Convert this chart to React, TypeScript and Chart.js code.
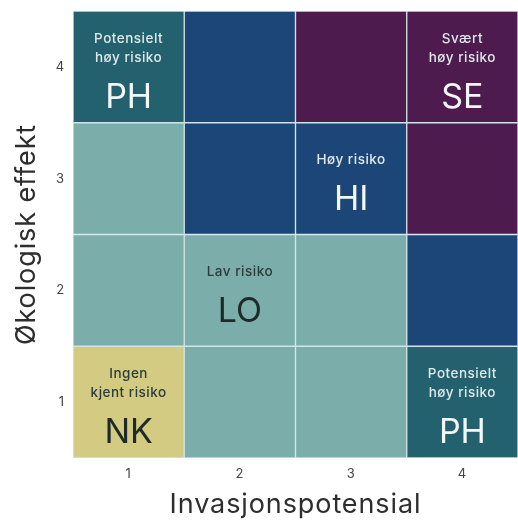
import React, { useEffect, useRef } from "react";
import { Chart, registerables } from "chart.js";

Chart.register(...registerables);

const xCategories = ["1", "2", "3", "4"];
const yCategories = ["1", "2", "3", "4"];
// risk class per cell, one array per row of "Økologisk effekt" (bottom to top), columns = Invasjonspotensial 1..4
const rowEffect1 = ["NK", "LO", "LO", "PH"];
const rowEffect2 = ["LO", "LO", "LO", "HI"];
const rowEffect3 = ["LO", "HI", "HI", "SE"];
const rowEffect4 = ["PH", "HI", "SE", "SE"];
const rows = [rowEffect1, rowEffect2, rowEffect3, rowEffect4];

const classCodes = ["NK", "LO", "PH", "HI", "SE"];
const classColors = ["#d4cb82", "#7badaa", "#24616f", "#1c4677", "#4e1b4f"];
const classNames = [["Ingen", "kjent risiko"], ["Lav risiko"], ["Potensielt", "høy risiko"], ["Høy risiko"], ["Svært", "høy risiko"]];
const classDark = [true, true, false, false, false];

// labelled cells: [invasjon, effekt]
const labelX = [1, 2, 3, 1, 4, 4];
const labelY = [1, 2, 3, 4, 4, 1];

const FONT = "Inter, 'Noto Sans', sans-serif";

const spacing = {
  id: "spacing",
  beforeDraw(chart: any) {
    chart.ctx.letterSpacing = "0.9px";
  },
};

const cellLabels = {
  id: "cellLabels",
  afterDatasetsDraw(chart: any) {
    const { ctx, scales } = chart;
    const xs = scales.x;
    const ys = scales.y;
    ctx.save();
    ctx.textAlign = "center";
    ctx.textBaseline = "middle";
    for (let i = 0; i < labelX.length; i++) {
      const cx = xs.getPixelForValue(labelX[i] - 1);
      const cy = ys.getPixelForValue(labelY[i] - 0.5);
      const code = rows[labelY[i] - 1][labelX[i] - 1];
      const k = classCodes.indexOf(code);
      const lines = classNames[k];
      const n = lines.length;
      const first = -(19 * (n - 1) + 39) / 2 + 1;
      const dark = classDark[k];
      ctx.fillStyle = dark ? "#2b3b3a" : "#dfe9ea";
      ctx.font = `500 13.5px ${FONT}`;
      ctx.letterSpacing = "0.5px";
      lines.forEach((t: string, j: number) => {
        ctx.fillText(t, cx, cy + first + j * 19);
      });
      ctx.fillStyle = dark ? "#1d2a29" : "#f4f7f7";
      ctx.font = `400 34px ${FONT}`;
      ctx.letterSpacing = "0px";
      ctx.fillText(code, cx, cy + first + 19 * (n - 1) + 40);
    }
    ctx.restore();
  },
};

export default function App() {
  const ref = useRef<HTMLCanvasElement>(null);
  useEffect(() => {
    if (!ref.current) return;
    const datasets = rows.map((r, i) => ({
      label: "Økologisk effekt " + yCategories[i],
      data: r.map(() => 1),
      backgroundColor: r.map((c) => classColors[classCodes.indexOf(c)]),
      borderColor: "rgba(205,226,226,0.9)",
      borderWidth: 1,
      borderSkipped: false,
      barPercentage: 1,
      categoryPercentage: 1,
    }));
    const chart = new Chart(ref.current, {
      type: "bar",
      data: { labels: xCategories, datasets },
      plugins: [spacing, cellLabels],
      options: {
        animation: false,
        responsive: false,
        layout: { padding: { top: 11, right: 0, left: 0, bottom: 0 } },
        plugins: { legend: { display: false }, tooltip: { enabled: false } },
        scales: {
          x: {
            stacked: true,
            grid: { display: false },
            border: { display: false },
            ticks: { color: "#444", font: { family: FONT, size: 13 }, padding: 0 },
            title: {
              display: true,
              text: "Invasjonspotensial",
              color: "#2e2e2e",
              font: { family: FONT, size: 27 },
              padding: { top: 0, bottom: 4 },
            },
            afterFit(scale: any) {
              scale.height = 67;
            },
          },
          y: {
            stacked: true,
            min: 0,
            max: 4,
            grid: { display: false },
            border: { display: false },
            afterBuildTicks(scale: any) {
              scale.ticks = yCategories.map((_, i) => ({ value: i + 0.5 }));
            },
            ticks: {
              color: "#444",
              font: { family: FONT, size: 13 },
              padding: 0,
              callback: (v: any) => yCategories[Math.round(Number(v) - 0.5)],
            },
            title: {
              display: true,
              text: "Økologisk effekt",
              color: "#2e2e2e",
              font: { family: FONT, size: 27 },
              padding: { top: 11, bottom: 0 },
            },
            afterFit(scale: any) {
              scale.width = 73;
            },
          },
        },
      },
    });
    return () => chart.destroy();
  }, []);
  return (
    <div style={{ position: "fixed", left: 0, top: 0, width: 518, height: 525, background: "#fff" }}>
      <canvas ref={ref} width={518} height={525} />
    </div>
  );
}
